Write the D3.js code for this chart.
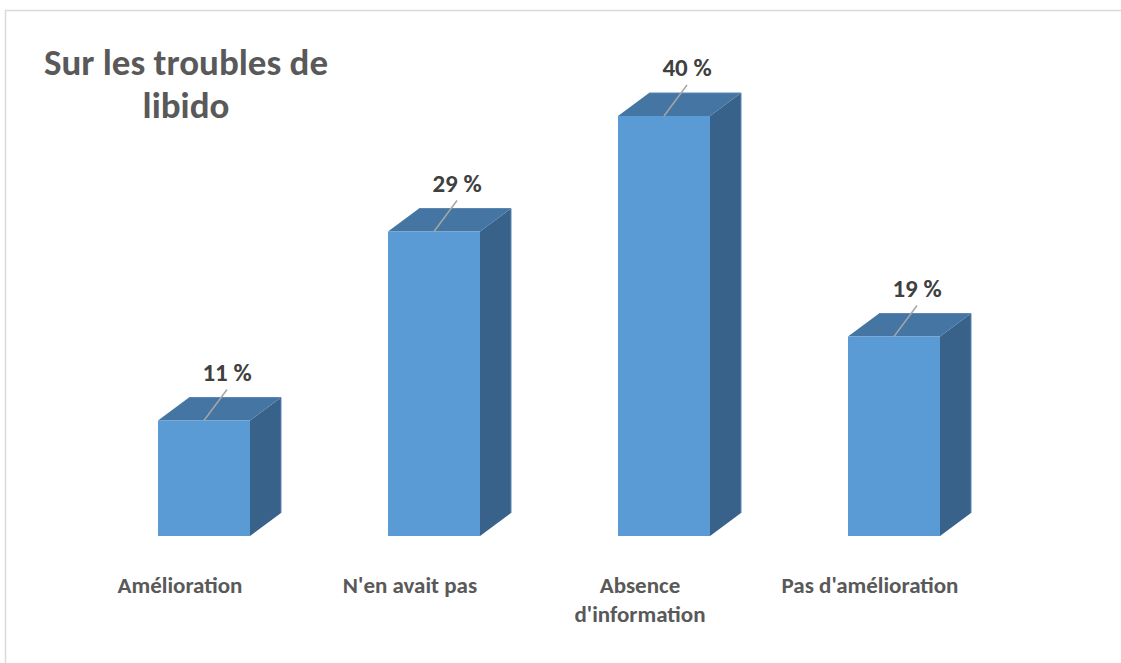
<!DOCTYPE html>
<html><head><meta charset="utf-8">
<script src="https://cdn.jsdelivr.net/npm/d3@7"></script>
<style>html,body{margin:0;padding:0;background:#fff;}svg{display:block;}</style>
</head><body>
<svg id="c" width="1121" height="663"></svg>
<script>
const categories = ["Amélioration", "N'en avait pas", "Absence\nd'information", "Pas d'amélioration"];
const values = [11, 29, 40, 19];
const valueLabels = ["11 %", "29 %", "40 %", "19 %"];
const titleLines = ["Sur les troubles de", "libido"];

const svg = d3.select("#c");
const font = "Calibri, Carlito, Lato, sans-serif";

// border
svg.append("path").attr("d", "M5.5,663 V10.5 H1121").attr("fill", "none").attr("stroke", "#d9d9d9").attr("stroke-width", 1.5);

const x = d3.scaleBand().domain(categories).range([89, 1009]).paddingInner(0.6).paddingOuter(0.3);
const y = d3.scaleLinear().domain([0, 40]).range([536, 116]);
const dx = 31, dy = -23;

const g = svg.append("g");
categories.forEach((c, i) => {
  const x0 = x(c), w = x.bandwidth(), top = y(values[i]), base = y(0);
  // side face
  g.append("path").attr("d", `M${x0+w},${top} L${x0+w+dx},${top+dy} L${x0+w+dx},${base+dy} L${x0+w},${base} Z`)
    .attr("fill", "#386289");
  // top face
  g.append("path").attr("d", `M${x0},${top} L${x0+dx},${top+dy} L${x0+w+dx},${top+dy} L${x0+w},${top} Z`)
    .attr("fill", "#4475a3");
  g.append("path").attr("d", `M${x0+dx},${top+dy} L${x0+w+dx},${top+dy} L${x0+w+dx},${base+dy}`)
    .attr("fill", "none").attr("stroke", "#5b87b3").attr("stroke-width", 1);
  // front
  g.append("rect").attr("x", x0).attr("y", top).attr("width", w).attr("height", base - top).attr("fill", "#5b9bd5");
  // leader line
  const cx = x0 + w / 2;
  g.append("line").attr("x1", cx).attr("y1", top).attr("x2", cx + 23).attr("y2", top - 31)
    .attr("stroke", "#a6a6a6").attr("stroke-width", 1.5);
  g.append("text").attr("x", cx + 23).attr("y", top - 40).attr("text-anchor", "middle")
    .attr("font-family", font).attr("font-weight", "bold").attr("font-size", 25).attr("fill", "#404040")
    .text(valueLabels[i]);
  // category label
  const lines = c.split("\n");
  const t = g.append("text").attr("x", cx - 24).attr("y", 593).attr("text-anchor", "middle")
    .attr("font-family", font).attr("font-weight", "bold").attr("font-size", 23).attr("fill", "#595959");
  lines.forEach((l, j) => t.append("tspan").attr("x", cx - 24).attr("dy", j ? 29 : 0).text(l));
});

// title
const tt = svg.append("text").attr("x", 186).attr("y", 75).attr("text-anchor", "middle")
  .attr("font-family", font).attr("font-weight", "bold").attr("font-size", 37).attr("fill", "#595959");
titleLines.forEach((l, j) => tt.append("tspan").attr("x", 186).attr("dy", j ? 43 : 0).text(l));
</script>
</body></html>
